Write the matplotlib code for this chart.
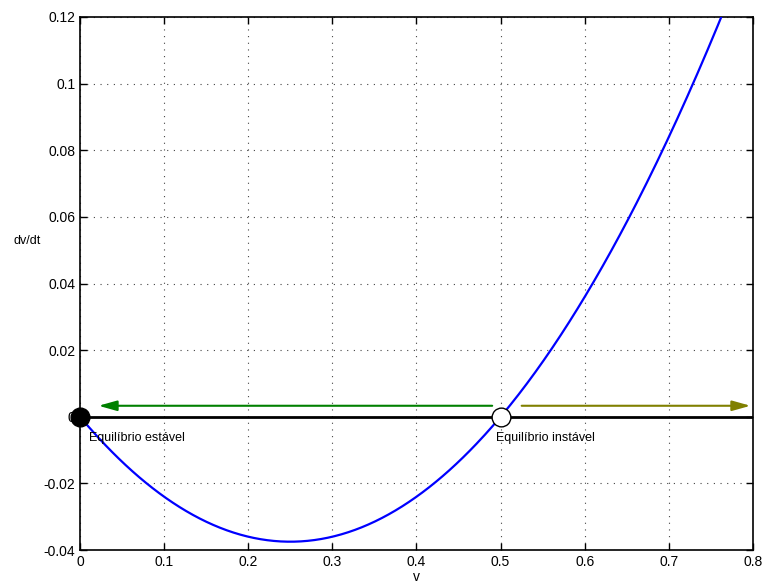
import numpy as np
import matplotlib
matplotlib.use("Agg")
import matplotlib.pyplot as plt

plt.rcParams['font.family'] = ['Liberation Sans', 'DejaVu Sans']

# curve points
v_pts = [0.0, 0.05, 0.10, 0.15, 0.20, 0.25, 0.30, 0.35, 0.40, 0.45, 0.50,
         0.55, 0.60, 0.65, 0.70, 0.75, 0.77]
dvdt_pts = [0.0, -0.0135, -0.024, -0.0315, -0.036, -0.0375, -0.036, -0.0315,
            -0.024, -0.0135, 0.0, 0.0165, 0.036, 0.0585, 0.084, 0.1125, 0.1248]

eq_v = [0.0, 0.5]
eq_labels = ['Equilíbrio estável', 'Equilíbrio instável']
xticks = [0, 0.1, 0.2, 0.3, 0.4, 0.5, 0.6, 0.7, 0.8]
yticks = [-0.04, -0.02, 0, 0.02, 0.04, 0.06, 0.08, 0.1, 0.12]
ytick_labels = ['-0.04', '-0.02', '0', '0.02', '0.04', '0.06', '0.08', '0.1', '0.12']
arrow_left = (0.49, 0.022, 0.0033)
arrow_right = (0.525, 0.797, 0.0033)

fig = plt.figure(figsize=(7.64, 5.84), dpi=100)
ax = fig.add_axes([0.1047, 0.0582, 0.8809, 0.9127])

vv = np.linspace(0, 0.8, 400)
coef = np.polyfit(v_pts, dvdt_pts, 2)
ax.plot(vv, np.polyval(coef, vv), color='blue', lw=1.6, zorder=3)

ax.axhline(0, color='black', lw=2, zorder=2)

astyle = '-|>,head_length=1.0,head_width=0.28'
ax.annotate('', xy=(arrow_left[1], arrow_left[2]), xytext=(arrow_left[0], arrow_left[2]),
            arrowprops=dict(arrowstyle=astyle, color='green', lw=1.5,
                            mutation_scale=11, shrinkA=0, shrinkB=0), zorder=4)
ax.annotate('', xy=(arrow_right[1], arrow_right[2]), xytext=(arrow_right[0], arrow_right[2]),
            arrowprops=dict(arrowstyle=astyle, color='#808000', lw=1.5,
                            mutation_scale=11, shrinkA=0, shrinkB=0), zorder=4)

ax.plot([eq_v[0]], [0], 'o', ms=13.5, mfc='black', mec='black', zorder=6, clip_on=False)
ax.plot([eq_v[1]], [0], 'o', ms=13.5, mfc='white', mec='black', mew=1, zorder=6, clip_on=False)

ax.text(eq_v[0] + 0.011, -0.0045, eq_labels[0], fontsize=9, va='top', ha='left')
ax.text(eq_v[1] - 0.006, -0.0045, eq_labels[1], fontsize=9, va='top', ha='left')

ax.set_xlim(0, 0.8)
ax.set_ylim(-0.04, 0.12)
ax.set_xticks(xticks)
ax.set_xticklabels(['0', '0.1', '0.2', '0.3', '0.4', '0.5', '0.6', '0.7', '0.8'])
ax.set_yticks(yticks)
ax.set_yticklabels(ytick_labels)
ax.tick_params(direction='in', length=5, labelsize=10, width=1)
ax.tick_params(axis='both', which='both', top=True, right=True)
ax.grid(True, color='#444444', linestyle=(0, (1, 5)), lw=0.8)
for s in ax.spines.values():
    s.set_linewidth(1.2)

ax.set_xlabel('v', fontsize=10, labelpad=1)
ax.set_ylabel('dv/dt', fontsize=9, rotation=0)
ax.yaxis.set_label_coords(-0.078, 0.568)

fig.savefig('out.png', dpi=100)
